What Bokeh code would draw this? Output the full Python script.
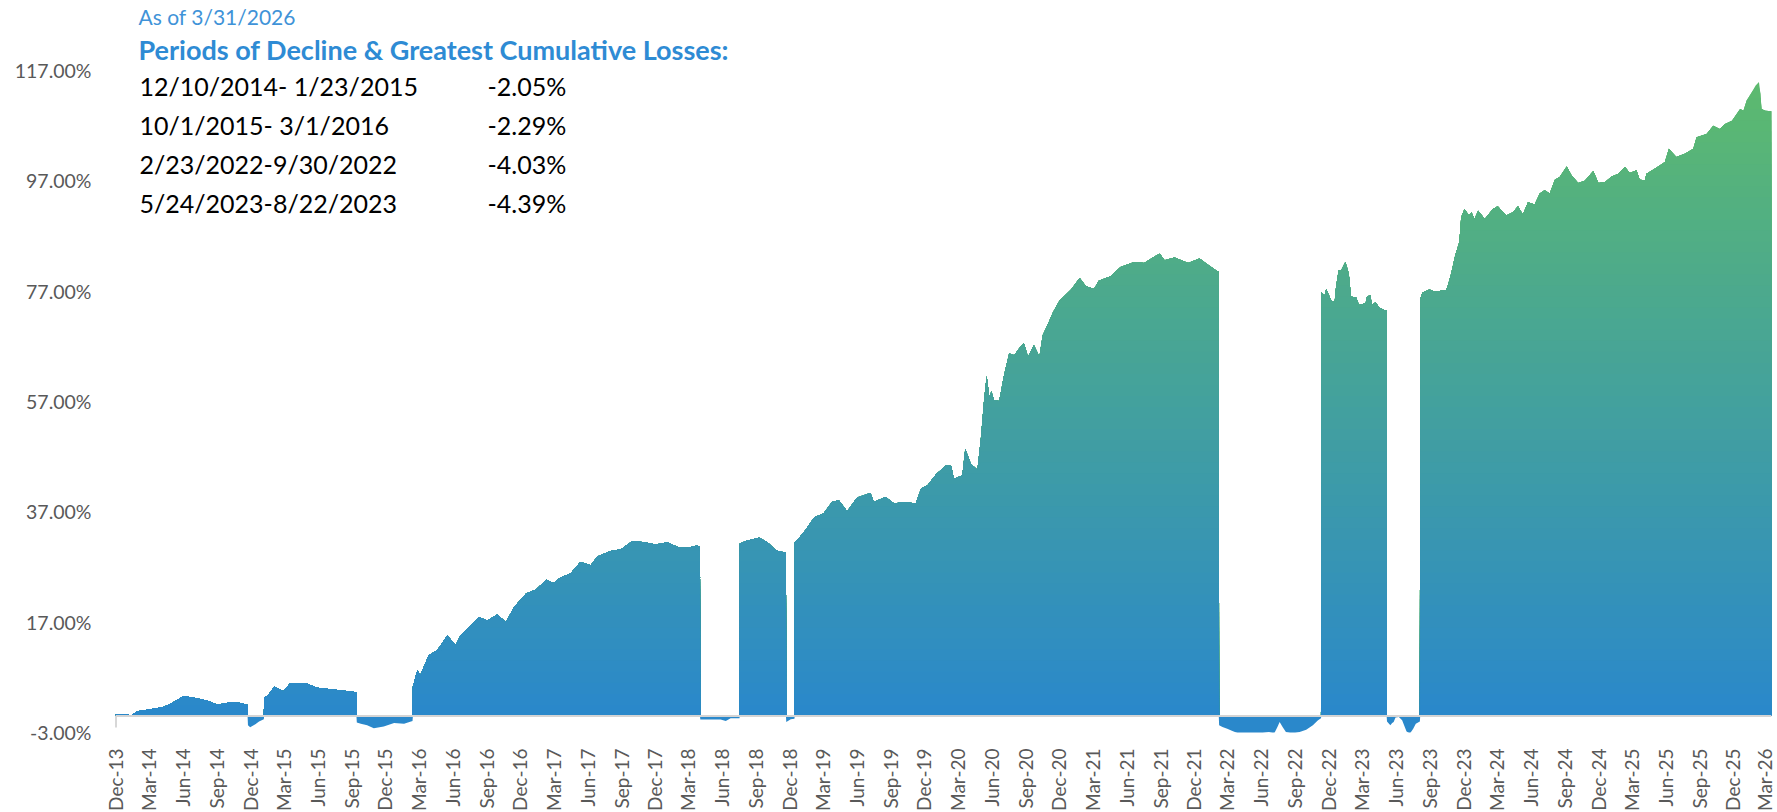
import numpy as np
import pandas as pd
from bokeh.plotting import figure
from bokeh.models import Range1d, FixedTicker, PrintfTickFormatter, DatetimeTickFormatter, Span, Label
from bokeh.embed import file_html
from bokeh.resources import INLINE

# ---------------- data ----------------
dates = [
    "2013-12-17", "2014-01-17", "2014-01-26", "2014-02-14", "2014-03-20", "2014-04-25", "2014-05-18",
    "2014-06-19", "2014-07-16", "2014-08-21", "2014-09-18", "2014-10-24", "2014-11-20", "2014-12-09",
    "2014-12-10", "2014-12-16", "2014-12-30", "2015-01-09", "2015-01-22",
    "2015-01-23", "2015-02-01", "2015-02-19", "2015-03-16", "2015-04-03", "2015-05-18", "2015-06-15",
    "2015-07-30", "2015-09-30",
    "2015-10-01", "2015-10-12", "2015-10-29", "2015-11-16", "2015-12-13", "2016-01-10", "2016-02-06",
    "2016-02-29",
    "2016-03-01", "2016-03-13", "2016-03-21", "2016-04-13", "2016-05-06", "2016-06-02", "2016-06-25",
    "2016-07-08", "2016-07-31", "2016-08-27", "2016-09-19", "2016-10-16", "2016-11-08", "2016-12-01",
    "2017-01-02", "2017-01-29", "2017-02-25", "2017-03-17", "2017-04-05", "2017-05-02", "2017-05-29",
    "2017-06-26", "2017-07-14", "2017-08-19", "2017-09-16", "2017-10-17", "2017-11-18", "2017-12-19",
    "2018-01-20", "2018-02-21", "2018-03-15", "2018-04-11", "2018-04-18",
    "2018-04-19", "2018-06-13", "2018-06-27", "2018-07-10", "2018-08-03",
    "2018-08-04", "2018-08-20", "2018-09-25", "2018-10-18", "2018-11-10", "2018-12-07",
    "2018-12-08", "2018-12-20", "2018-12-30",
    "2018-12-31", "2019-01-07", "2019-01-28", "2019-02-22", "2019-03-19", "2019-04-11", "2019-04-29",
    "2019-05-22", "2019-06-18", "2019-07-24", "2019-08-02", "2019-09-03", "2019-09-26", "2019-10-23",
    "2019-11-24", "2019-12-08", "2019-12-26", "2020-01-18", "2020-02-14", "2020-02-28", "2020-03-06",
    "2020-03-29", "2020-04-06", "2020-04-21", "2020-05-09", "2020-05-18", "2020-05-27", "2020-06-03",
    "2020-06-10", "2020-06-16", "2020-06-23", "2020-07-07", "2020-07-20", "2020-08-03", "2020-08-17",
    "2020-08-31", "2020-09-12", "2020-09-23", "2020-10-09", "2020-10-24", "2020-11-02", "2020-11-16",
    "2020-11-30", "2020-12-17", "2021-01-18", "2021-02-10", "2021-02-27", "2021-03-21", "2021-04-03",
    "2021-05-05", "2021-06-01", "2021-07-08", "2021-08-04", "2021-09-01", "2021-09-15", "2021-09-28",
    "2021-10-25", "2021-12-01", "2022-01-01", "2022-01-19", "2022-02-16", "2022-02-22",
    "2022-02-23", "2022-03-04", "2022-03-17", "2022-03-31", "2022-04-18", "2022-05-15", "2022-06-11",
    "2022-07-08", "2022-07-22", "2022-07-31", "2022-08-06", "2022-08-14", "2022-08-23", "2022-09-10",
    "2022-09-29", "2022-10-17", "2022-11-04", "2022-11-18", "2022-11-26",
    "2022-11-27", "2022-12-06", "2022-12-10", "2022-12-24", "2023-01-02", "2023-01-06", "2023-01-13",
    "2023-01-20", "2023-01-31", "2023-02-07", "2023-02-11", "2023-02-15", "2023-03-01", "2023-03-09",
    "2023-03-27", "2023-03-31", "2023-04-09", "2023-04-13", "2023-04-23", "2023-05-02", "2023-05-16",
    "2023-05-23",
    "2023-05-24", "2023-06-02", "2023-06-07", "2023-06-11", "2023-06-16", "2023-06-25", "2023-07-04",
    "2023-07-13", "2023-07-16", "2023-07-25", "2023-08-03", "2023-08-10", "2023-08-21",
    "2023-08-22", "2023-08-28", "2023-09-16", "2023-09-30", "2023-10-31", "2023-11-04", "2023-11-14",
    "2023-11-25", "2023-12-06", "2023-12-11", "2023-12-20", "2024-01-01", "2024-01-08", "2024-01-16",
    "2024-01-26", "2024-02-13", "2024-03-06", "2024-03-19", "2024-04-11", "2024-04-29", "2024-05-13",
    "2024-05-26", "2024-06-09", "2024-06-27", "2024-07-11", "2024-07-24", "2024-08-07", "2024-08-21",
    "2024-09-03", "2024-09-22", "2024-10-05", "2024-10-23", "2024-11-10", "2024-12-03", "2024-12-17",
    "2025-01-04", "2025-01-22", "2025-02-09", "2025-02-27", "2025-03-12", "2025-03-30", "2025-04-08",
    "2025-04-22", "2025-04-26", "2025-05-14", "2025-06-01", "2025-06-15", "2025-06-26", "2025-07-08",
    "2025-07-16", "2025-08-08", "2025-08-31", "2025-09-09", "2025-10-06", "2025-10-24", "2025-11-11",
    "2025-11-25", "2025-12-14", "2026-01-05", "2026-01-14", "2026-01-23", "2026-02-06", "2026-02-16",
    "2026-02-25", "2026-03-01", "2026-03-04", "2026-03-14", "2026-03-31",
]
cum_return = [
    0.35, 0.35, 0.05, 0.85, 1.2, 1.6, 2.35,
    3.6, 3.3, 2.8, 2.05, 2.5, 2.35, 2.0,
    -1.7, -2.05, -1.5, -1.0, -0.6,
    3.4, 3.6, 5.3, 4.5, 5.9, 5.9, 5.1,
    4.8, 4.3,
    -1.2, -1.4, -1.7, -2.25, -1.9, -1.3, -1.4,
    -0.9,
    5.3, 8.3, 7.4, 11.0, 11.9, 14.6, 12.8,
    14.6, 16.1, 17.9, 17.3, 18.4, 17.0, 19.8,
    22.2, 22.9, 24.7, 24.1, 25.1, 25.8, 27.9,
    27.3, 28.9, 29.9, 30.2, 31.7, 31.5, 31.1,
    31.5, 30.5, 30.5, 30.9, 30.6,
    -0.66, -0.66, -0.9, -0.4, -0.4,
    31.2, 31.7, 32.3, 31.5, 30.0, 29.6,
    -1.1, -0.6, -0.5,
    31.5, 31.9, 33.6, 36.0, 36.7, 38.8, 39.1,
    37.1, 39.6, 40.4, 38.8, 39.7, 38.5, 38.8,
    38.5, 41.2, 41.8, 43.8, 45.4, 45.3, 43.0,
    43.6, 48.4, 45.7, 44.6, 50.0, 57.2, 61.6,
    57.9, 58.8, 57.2, 57.1, 61.7, 65.7, 65.4,
    66.7, 67.5, 65.1, 67.2, 65.1, 69.0, 71.0,
    73.2, 75.2, 77.3, 79.4, 77.9, 77.4, 78.9,
    79.7, 81.4, 82.3, 82.1, 83.3, 83.8, 82.6,
    83.1, 82.1, 82.9, 82.0, 80.7, 80.5,
    -1.7, -2.0, -2.3, -2.75, -3.2, -3.2, -3.2,
    -2.9, -3.2, -2.0, -1.1, -2.0, -2.9, -3.2,
    -2.9, -2.5, -1.7, -0.8, -0.4,
    76.8, 76.2, 77.4, 75.3, 75.0, 77.8, 80.8,
    80.8, 82.3, 80.8, 79.3, 76.0, 75.9, 74.5,
    74.8, 76.1, 76.2, 74.5, 75.0, 74.1, 73.6,
    73.5,
    -1.0, -1.7, -1.3, -1.1, -0.3, -0.2, -0.8,
    -2.3, -2.8, -3.2, -2.3, -1.4, -1.0,
    75.6, 76.7, 77.3, 76.9, 77.2, 77.8, 80.2,
    83.5, 85.9, 90.4, 91.9, 90.7, 91.3, 90.1,
    91.6, 90.1, 91.9, 92.4, 90.7, 91.3, 92.4,
    90.9, 93.1, 92.7, 94.7, 95.3, 94.7, 97.2,
    97.7, 99.6, 98.0, 96.6, 97.0, 98.8, 96.6,
    96.8, 97.8, 98.3, 99.5, 98.4, 98.9, 97.2,
    97.1, 98.3, 99.0, 99.8, 100.4, 102.8, 101.9,
    101.3, 101.9, 102.8, 104.9, 105.5, 107.0, 106.4,
    107.3, 107.9, 110.0, 109.7, 111.6, 113.1, 114.3,
    114.9, 112.8, 110.0, 109.7, 109.6,
]
decline_periods = ["12/10/2014- 1/23/2015", "10/1/2015- 3/1/2016",
                   "2/23/2022-9/30/2022", "5/24/2023-8/22/2023"]
decline_losses = ["-2.05%", "-2.29%", "-4.03%", "-4.39%"]
y_ticks = [-3, 17, 37, 57, 77, 97, 117]
as_of_text = "As of 3/31/2026"
heading_text = "Periods of Decline & Greatest Cumulative Losses:"

# ---------------- figure ----------------
x = pd.to_datetime(dates)
v = np.array(cum_return, dtype=float)

X0, X1 = pd.Timestamp("2013-12-16"), pd.Timestamp("2026-03-31")
Y0, Y1 = -3.0, 128.24
FW, FH = 1656, 724
LEFT, TOP = 115, 8

p = figure(x_axis_type="datetime", frame_width=FW, frame_height=FH,
           x_range=Range1d(X0, X1), y_range=Range1d(Y0, Y1),
           output_backend="svg", toolbar_location=None,
           min_border_left=LEFT, min_border_right=4, min_border_top=TOP, min_border_bottom=76,
           background_fill_color="white", border_fill_color="white")
p.outline_line_color = None
p.xgrid.grid_line_color = None
p.ygrid.grid_line_color = None

# gradient area: painted as stacked horizontal bands (blue at bottom -> green at top)
c_lo = np.array([42, 136, 203])
c_hi = np.array([93, 186, 110])
pos = np.maximum(v, 0.0)
neg = np.minimum(v, 0.0)
band_tops = np.arange(2, 118, 2)
for top in band_tops[::-1]:
    t = min(max((top - 1.0) / 115.0, 0.0), 1.0)
    r, g, b = (c_lo + (c_hi - c_lo) * t).round().astype(int)
    col = "#%02x%02x%02x" % (r, g, b)
    p.varea(x=x, y1=0, y2=np.minimum(pos, top), fill_color=col, fill_alpha=1.0)
p.varea(x=x, y1=neg, y2=0, fill_color="#2a88cb", fill_alpha=1.0)

# zero line and the small axis mark at the start
p.add_layout(Span(location=0, dimension="width", line_color="#d4d4d4", line_width=2))
p.segment(x0=[X0], y0=[-2.1], x1=[X0], y1=[0], line_color="#b0b0b0", line_width=2)

# axes
p.yaxis.ticker = FixedTicker(ticks=y_ticks)
p.yaxis.formatter = PrintfTickFormatter(format="%.2f%%")
p.yaxis.major_label_text_font = "Lato"
p.yaxis.major_label_text_font_size = "19.5px"
p.yaxis.major_label_text_color = "#595959"
p.yaxis.axis_line_color = None
p.yaxis.major_tick_line_color = None
p.yaxis.minor_tick_line_color = None
p.yaxis.major_label_standoff = 18

tick_dates = pd.date_range("2013-12-01", "2026-03-01", freq="3MS") + pd.Timedelta(days=15)
p.xaxis.ticker = FixedTicker(ticks=[t.value / 1e6 for t in tick_dates])
fmt = "%b-%y"
p.xaxis.formatter = DatetimeTickFormatter(milliseconds=fmt, seconds=fmt, minsec=fmt, minutes=fmt,
                                          hourmin=fmt, hours=fmt, days=fmt, months=fmt, years=fmt)
p.xaxis.major_label_orientation = np.pi / 2
p.xaxis.major_label_text_font = "Lato"
p.xaxis.major_label_text_font_size = "19px"
p.xaxis.major_label_text_color = "#595959"
p.xaxis.axis_line_color = None
p.xaxis.major_tick_line_color = None
p.xaxis.minor_tick_line_color = None
p.xaxis.major_label_standoff = 10


# header texts (positions given in page pixels, converted to data coordinates)
def at_px(px, py):
    fx = (px - LEFT) / FW
    fy = (py - TOP) / FH
    xd = X0 + (X1 - X0) * fx
    yd = Y1 - (Y1 - Y0) * fy
    return xd.value / 1e6, yd


def add_text(txt, px, py, size, color, style="normal"):
    xd, yd = at_px(px, py)
    p.add_layout(Label(x=xd, y=yd, text=txt, text_font="Lato", text_font_size=size,
                       text_color=color, text_font_style=style,
                       text_align="left", text_baseline="middle"))


add_text(as_of_text, 138, 16, "21px", "#3f93d8")
add_text(heading_text, 138, 49, "27px", "#2e8bd4", "bold")
for i, (per, loss) in enumerate(zip(decline_periods, decline_losses)):
    add_text(per, 139, 85 + 39 * i, "25px", "#000000")
    add_text(loss, 487, 85 + 39 * i, "25px", "#000000")

open("out.html", "w").write(file_html(p, INLINE))
